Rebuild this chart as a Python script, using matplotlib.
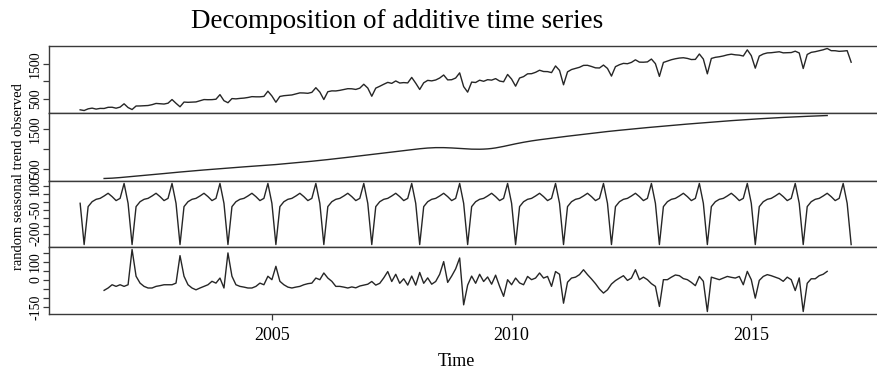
import numpy as np
import matplotlib.pyplot as plt

plt.rcParams['font.family'] = ['Liberation Serif', 'DejaVu Serif']

# monthly series, Jan 2001 - Feb 2017
start_year = 2001
n_months = 194

# observed values where the trend is not defined
observed_head = [192, 172, 220, 240, 212, 232]            # Jan-Jun 2001
observed_tail = [1872, 1870, 1853, 1860, 1872, 1544]      # Sep 2016 - Feb 2017

# seasonal figure, Jan..Dec
seasonal_figure = [-9, -269, -30, 1, 16, 22, 37, 54, 33, 8, 22, 116]

# trend, Jul 2001 - Aug 2016
trend = [
    252, 255, 260, 267, 275, 284,
    293, 302, 311, 320, 329, 338, 347, 356, 366, 376, 386, 396,
    405, 414, 423, 432, 441, 450, 458, 466, 474, 482, 490, 498,
    506, 514, 522, 530, 537, 544, 551, 558, 565, 572, 579, 586,
    594, 602, 611, 620, 629, 638, 647, 656, 665, 675, 685, 695,
    705, 716, 727, 738, 749, 760, 772, 784, 796, 808, 820, 832,
    844, 856, 868, 880, 892, 904, 916, 928, 940, 952, 964, 976,
    988, 999, 1009, 1017, 1023, 1027, 1028, 1027, 1024, 1019, 1013, 1006,
    999, 993, 989, 987, 987, 990, 996, 1006, 1020, 1038, 1058, 1080,
    1102, 1123, 1143, 1162, 1180, 1196, 1211, 1225, 1238, 1251, 1264, 1277,
    1290, 1302, 1314, 1326, 1338, 1350, 1362, 1374, 1386, 1398, 1410, 1421,
    1432, 1443, 1453, 1463, 1473, 1483, 1493, 1503, 1513, 1522, 1531, 1540,
    1549, 1558, 1567, 1576, 1585, 1594, 1603, 1611, 1619, 1627, 1635, 1643,
    1651, 1659, 1667, 1675, 1683, 1691, 1698, 1705, 1712, 1719, 1726, 1733,
    1740, 1746, 1752, 1758, 1764, 1770, 1776, 1781, 1786, 1791, 1796, 1801,
    1806, 1810, 1814, 1818, 1822, 1826, 1830, 1834,
]

# remainder, Jul 2001 - Aug 2016
random_part = [
    -59, -46, -28, -37, -28, -37,
    -28, 167, 19, -19, -37, -46, -46, -37, -33, -28, -28, -28,
    -19, 133, 19, -28, -46, -56, -46, -37, -28, -9, -19, 9,
    -46, 148, 19, -28, -37, -41, -46, -46, -37, -19, -28, 19,
    0, 74, -9, -28, -41, -46, -41, -37, -28, -22, -19, 9,
    0, 37, 9, -9, -37, -37, -41, -46, -40, -45, -35, -30,
    -25, -10, -30, -20, 10, 45, -10, 30, -20, 5, -30, 20,
    -30, 40, -20, 10, -25, -10, 30, 100, -15, 20, 60, 120,
    -139, -30, 20, -20, 30, -10, 15, -25, 25, -37, -92, 0,
    -28, 9, -18, -28, 18, 0, 9, 37, 9, 18, -37, 45,
    30, -130, -14, 9, 14, 28, 55, 28, 4, -22, -52, -74,
    -56, -24, -5, 9, 22, -4, 9, 55, 0, 14, 0, -22,
    -37, -148, 0, 0, 14, 26, 22, 6, 0, -15, -33, 18,
    -9, -176, 14, 7, 0, 9, 18, 13, 9, 18, -28, 46,
    0, -102, -4, 18, 28, 22, 14, 6, -9, 14, 0, -60,
    10, -176, -20, 5, 5, 22, 30, 46,
]

panel_ticks = [
    [500, 1000, 1500],
    [500, 1000, 1500],
    [-200, -150, -100, -50, 0, 50, 100],
    [-150, -100, -50, 0, 50, 100, 150],
]
panel_labels = [
    ['500', '', '1500'],
    ['500', '', '1500'],
    ['-200', '', '', '-50', '', '', '100'],
    ['-150', '', '', '0', '', '100', ''],
]
x_ticks = [2005, 2010, 2015]

# build the components
t = start_year + np.arange(n_months) / 12
seasonal = np.tile(seasonal_figure, n_months // 12 + 1)[:n_months].astype(float)
trend_full = np.full(n_months, np.nan)
trend_full[6:188] = trend
random_full = np.full(n_months, np.nan)
random_full[6:188] = random_part
observed = trend_full + seasonal + random_full
observed[:6] = observed_head
observed[188:] = observed_tail
series = [observed, trend_full, seasonal, random_full]

W, H = 877, 372
fig = plt.figure(figsize=(W / 100, H / 100), dpi=100)
edges = [46, 113, 181, 247, 314]
left, right = 49.3, 882.0
line_col = '#262626'
frame_col = '#3a3a3a'

xlo, xhi = t[0], t[-1]
xpad = 0.04 * (xhi - xlo)

for i, y in enumerate(series):
    top, bot = edges[i], edges[i + 1]
    ax = fig.add_axes([left / W, 1 - bot / H, (right - left) / W, (bot - top) / H])
    ax.plot(t, y, color=line_col, lw=1.0)
    lo, hi = np.nanmin(y), np.nanmax(y)
    pad = 0.04 * (hi - lo)
    ax.set_ylim(lo - pad, hi + pad)
    ax.set_xlim(xlo - xpad, xhi + xpad)
    ax.set_yticks(panel_ticks[i])
    ax.set_yticklabels(panel_labels[i], rotation=90, va='center', fontsize=10)
    ax.tick_params(axis='y', length=4.3, width=0.9, color=frame_col, pad=0.8)
    for s in ax.spines.values():
        s.set_color(frame_col)
        s.set_linewidth(1.0)
    if i < 3:
        ax.set_xticks([])
    else:
        ax.set_xticks(x_ticks)
        ax.set_xticklabels([str(v) for v in x_ticks], fontsize=13)
        ax.tick_params(axis='x', length=4, width=0.9, color=frame_col, pad=5)

fig.text(19 / W, 1 - 177 / H, 'random seasonal trend observed', rotation=90,
         ha='center', va='center', fontsize=10.5)
fig.text(397 / W, 1 - 21 / H, 'Decomposition of additive time series',
         ha='center', va='center', fontsize=19.5)
fig.text(456 / W, 1 - 361 / H, 'Time', ha='center', va='center', fontsize=13)

fig.savefig('out.png', dpi=100)
